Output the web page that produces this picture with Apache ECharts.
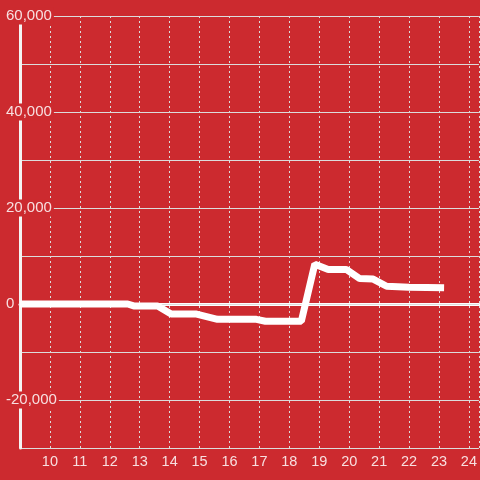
<!DOCTYPE html>
<html>
<head>
<meta charset="utf-8">
<script src="https://cdn.jsdelivr.net/npm/echarts@6/dist/echarts.min.js"></script>
<style>
  html, body { margin: 0; padding: 0; background: #cc2a2f; }
  #chart { width: 480px; height: 480px; }
</style>
</head>
<body>
<div id="chart"></div>
<script>
// 数据：时间（小时）和数值
var hours = [9, 12.6, 12.8, 13.6, 14.05, 14.9, 15.6, 16.9, 17.2, 18.4, 18.85, 19.3, 19.9, 20.35, 20.8, 21.25, 22.0, 23.17];
var values = [0, 0, -400, -400, -2100, -2100, -3200, -3200, -3600, -3600, 8300, 7200, 7200, 5300, 5200, 3700, 3500, 3400];

var bgColor = '#cc2a2f';
var labelColor = 'rgba(255,255,255,0.85)';

var seriesData = hours.map(function (h, i) {
  return [h, values[i]];
});

var chart = echarts.init(document.getElementById('chart'), null, { renderer: 'canvas' });

var option = {
  backgroundColor: bgColor,
  animation: false,
  grid: {
    left: 20,
    right: 0,
    top: 16,
    bottom: 32,
    containLabel: false
  },
  xAxis: {
    type: 'value',
    min: 9,
    max: 9 + 460 / 30,
    interval: 1,
    axisLine: {
      show: true,
      onZero: true,
      lineStyle: { color: '#ffffff', width: 3 }
    },
    axisTick: { show: false },
    axisLabel: {
      color: labelColor,
      fontSize: 14.5,
      margin: 6,
      showMinLabel: false,
      showMaxLabel: false
    },
    splitLine: {
      show: true,
      lineStyle: { color: '#dcdcdc', type: [2, 3], width: 1 }
    }
  },
  yAxis: {
    type: 'value',
    min: -30000,
    max: 60000,
    interval: 10000,
    z: 4,
    axisLine: {
      show: true,
      lineStyle: { color: '#f4f4f4', width: 3 }
    },
    axisTick: { show: false },
    axisLabel: {
      margin: 14,
      align: 'left',
      formatter: function (v) {
        // 只显示 20000 的倍数
        if (v % 20000 !== 0) return '';
        return '{a|' + v.toLocaleString('en-US') + '}';
      },
      rich: {
        a: {
          color: labelColor,
          fontSize: 15,
          backgroundColor: bgColor,
          padding: [1, 2, 1, 0]
        }
      }
    },
    splitLine: {
      show: true,
      lineStyle: { color: '#dcdcdc', width: 1 }
    }
  },
  series: [{
    type: 'line',
    data: seriesData,
    symbol: 'none',
    silent: true,
    lineStyle: { color: '#ffffff', width: 7 },
    z: 5
  }]
};

chart.setOption(option);
</script>
</body>
</html>
